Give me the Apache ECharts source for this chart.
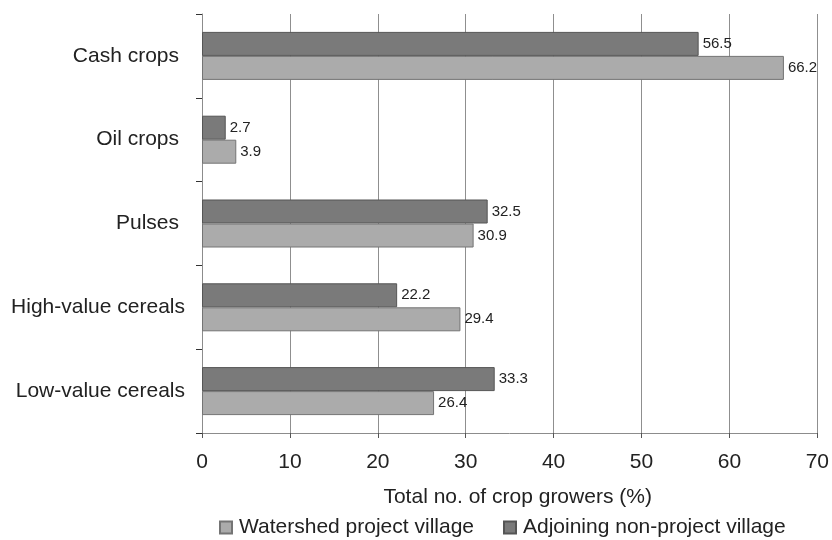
<!DOCTYPE html>
<html>
<head>
<meta charset="utf-8">
<script src="https://cdn.jsdelivr.net/npm/echarts@6/dist/echarts.min.js"></script>
<style>
  html, body { margin: 0; padding: 0; background: #ffffff; }
  #chart { width: 832px; height: 540px; }
</style>
</head>
<body>
<div id="chart"></div>
<script>
// Crop groups, listed bottom to top along the category axis
var categories = ['Low-value cereals', 'High-value cereals', 'Pulses', 'Oil crops', 'Cash crops'];
// Share of farmers growing each crop group (%)
var watershedVillage = [26.4, 29.4, 30.9, 3.9, 66.2];
var adjoiningVillage = [33.3, 22.2, 32.5, 2.7, 56.5];
var xTicks = [0, 10, 20, 30, 40, 50, 60, 70];

var FONT = '"Liberation Sans", Arial, Helvetica, sans-serif';

var chart = echarts.init(document.getElementById('chart'), null, { renderer: 'canvas' });

function barLabel() {
  return {
    show: true,
    position: 'right',
    distance: 4,
    color: '#222',
    fontFamily: FONT,
    fontSize: 15,
    formatter: function (p) { return p.value.toFixed(1); }
  };
}

// the cereal labels sit a little closer to the axis than the short ones
var categoryItems = categories.map(function (name) {
  var inset = /cereals/.test(name) ? 0 : 6;
  return { value: name, textStyle: { padding: [0, inset, 0, 0] } };
});

chart.setOption({
  animation: false,
  backgroundColor: '#ffffff',
  grid: { left: 202, right: 13, top: 14, bottom: 107, containLabel: false },
  legend: {
    top: 517,
    left: 219,
    padding: 0,
    itemWidth: 12,
    itemHeight: 12,
    itemGap: 29,
    icon: 'rect',
    textStyle: { fontFamily: FONT, fontSize: 21, color: '#222', padding: [0, 0, 0, 2] },
    data: ['Watershed project village', 'Adjoining non-project village']
  },
  xAxis: {
    type: 'value',
    min: xTicks[0],
    max: xTicks[xTicks.length - 1],
    interval: 10,
    name: 'Total no. of crop growers (%)',
    nameLocation: 'middle',
    nameGap: 54,
    nameTextStyle: { fontFamily: FONT, fontSize: 21, color: '#222', padding: [0, 0, 0, 16] },
    axisLine: { show: true, lineStyle: { color: '#8c8c8c', width: 1 } },
    axisTick: { show: true, length: 5, lineStyle: { color: '#555' } },
    axisLabel: { fontFamily: FONT, fontSize: 21, color: '#222', margin: 19 },
    splitLine: { show: true, lineStyle: { color: '#8f8f8f', width: 1 } }
  },
  yAxis: {
    type: 'category',
    data: categoryItems,
    axisLine: { show: true, lineStyle: { color: '#8c8c8c', width: 1 } },
    axisTick: { show: true, length: 6, lineStyle: { color: '#333' } },
    axisLabel: { fontFamily: FONT, fontSize: 21, color: '#222', margin: 17 },
    splitLine: { show: false }
  },
  series: [
    {
      // first series sits on the upper half of each band
      name: 'Adjoining non-project village',
      type: 'bar',
      data: adjoiningVillage,
      barWidth: 24,
      barGap: '0%',
      itemStyle: { color: '#7a7a7a', borderColor: '#555', borderWidth: 1 },
      label: barLabel()
    },
    {
      name: 'Watershed project village',
      type: 'bar',
      data: watershedVillage,
      barWidth: 24,
      barGap: '0%',
      itemStyle: { color: '#ababab', borderColor: '#747474', borderWidth: 1 },
      label: barLabel()
    }
  ]
});
</script>
</body>
</html>
